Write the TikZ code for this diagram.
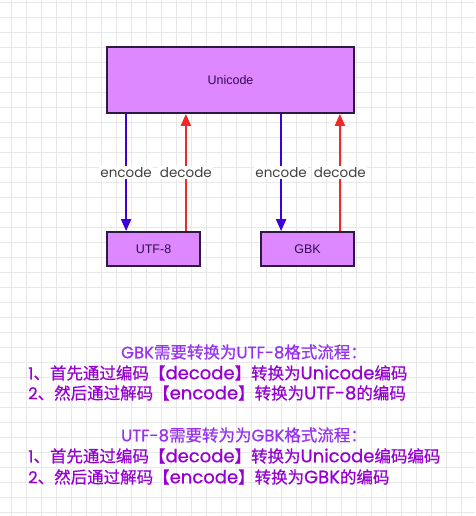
\documentclass[tikz,border=0pt]{standalone}
\usepackage{fontspec}
\setmainfont{Liberation Sans}
\newfontfamily\cjk[FakeBold=0.6]{Noto Sans CJK SC}
\newfontfamily\geo{Poppins}
\newfontfamily\geob[FakeBold=0.6]{Poppins}
\usetikzlibrary{arrows.meta}
\definecolor{boxfill}{RGB}{221,136,255}
\definecolor{boxline}{RGB}{45,25,65}
\definecolor{boxtext}{RGB}{50,10,80}
\definecolor{encc}{RGB}{60,0,220}
\definecolor{decc}{RGB}{240,40,40}
\definecolor{gridc}{RGB}{232,232,232}
\definecolor{headc}{RGB}{150,50,240}
\definecolor{linec}{RGB}{150,0,210}
\newcommand{\gx}[1]{{\geob #1}}
\newcommand{\gy}[1]{{\geob\fontsize{18}{18}\selectfont #1}}
\tikzset{
  box/.style={draw=boxline, line width=1.8pt, fill=boxfill, inner sep=0pt, text=boxtext, font=\fontsize{12.5}{14}\selectfont},
  enc/.style={draw=encc, line width=2pt, -{Triangle[length=12pt,width=10pt]}},
  dec/.style={draw=decc, line width=2pt, -{Triangle[length=12pt,width=10pt]}},
  lbl/.style={fill=white, inner sep=1.5pt, text=black!75, font=\geo\fontsize{13.5}{15}\selectfont},
  head/.style={text=headc, font=\cjk\fontsize{16.5}{18}\selectfont, inner sep=0pt},
  body/.style={text=linec, font=\cjk\fontsize{16.5}{18}\selectfont, inner sep=0pt, anchor=west}
}
\begin{document}
\begin{tikzpicture}[x=1pt,y=-1pt]
\useasboundingbox (0,0) rectangle (475,516);
\fill[white] (0,0) rectangle (475,516);
\foreach \i in {0,...,31} {\draw[gridc, line width=0.6pt] (11+15*\i,0) -- (11+15*\i,516);}
\foreach \j in {0,...,34} {\draw[gridc, line width=0.6pt] (0,2+15*\j) -- (475,2+15*\j);}

\node[box, minimum width=247pt, minimum height=66pt] (uni) at (230.5,80) {Unicode};
\node[box, minimum width=93pt, minimum height=34pt] (utf) at (153.5,249) {UTF-8};
\node[box, minimum width=93pt, minimum height=34pt] (gbk) at (307.5,249) {GBK};

\draw[enc] ([xshift=20pt]uni.south west) -- ([xshift=20pt]utf.north west) node[midway,lbl] {encode};
\draw[dec] ([xshift=-15pt]utf.north east) -- ([xshift=-15pt]utf.north east |- uni.south) node[midway,lbl] {decode};
\draw[enc] ([xshift=21pt]gbk.north west |- uni.south) -- ([xshift=21pt]gbk.north west) node[midway,lbl] {encode};
\draw[dec] ([xshift=-15pt]gbk.north east) -- ([xshift=-15pt]uni.south east) node[midway,lbl] {decode};

\node[head] (h1) at (244,352) {\gx{GBK}需要转换为\gx{UTF-8}格式流程：};
\node[body] (a1) at (28,373) {\gx{1}、首先通过编码【\gy{decode}】转换为\gy{Unicode}编码};
\node[body] (a2) at (28,393) {\gx{2}、然后通过解码【\gy{encode}】转换为\gy{UTF-8}的编码};
\node[head] (h2) at (244,435) {\gx{UTF-8}需要转为为\gx{GBK}格式流程：};
\node[body] (b1) at (28,456) {\gx{1}、首先通过编码【\gy{decode}】转换为\gy{Unicode}编码编码};
\node[body] (b2) at (28,477) {\gx{2}、然后通过解码【\gy{encode}】转换为\gy{GBK}的编码};
\end{tikzpicture}
\end{document}
